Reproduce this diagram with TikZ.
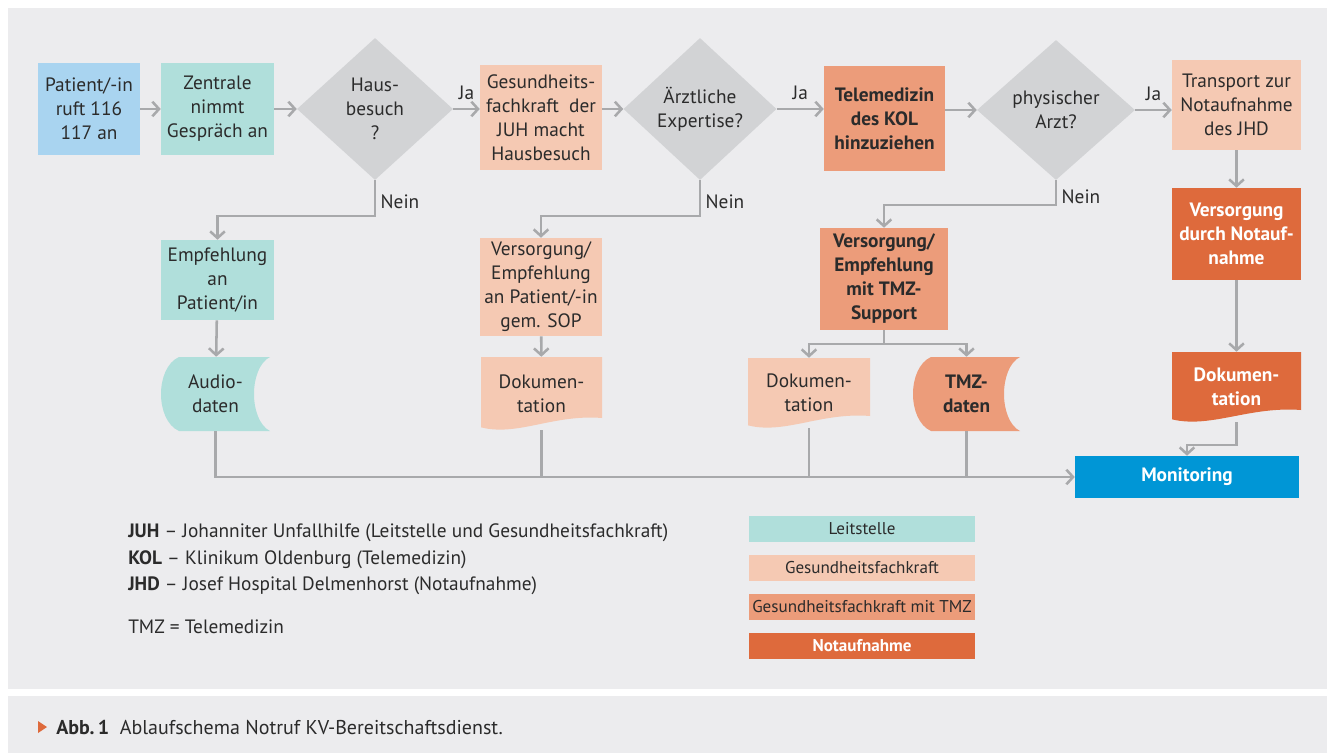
\documentclass[tikz,border=0pt]{standalone}
\usepackage{fontspec}
\setmainfont{PT Sans}
\usetikzlibrary{shapes.geometric,arrows.meta,calc}

\definecolor{bggray}{HTML}{ECECEE}
\definecolor{askgray}{HTML}{D2D3D5}
\definecolor{linegray}{HTML}{A8A9AB}
\definecolor{txtgray}{HTML}{2B2B2B}
\definecolor{callblue}{HTML}{A9D4F0}
\definecolor{leitteal}{HTML}{B0DFDB}
\definecolor{gfkpeach}{HTML}{F5C9B3}
\definecolor{tmzsalmon}{HTML}{EC9C7A}
\definecolor{notorange}{HTML}{DE6A3C}
\definecolor{monblue}{HTML}{0096D6}

\tikzset{
  box/.style 2 args={minimum width=#1*0.75pt, minimum height=#2*0.75pt, inner sep=0pt, align=center},
  ask/.style 2 args={diamond, fill=askgray, minimum width=#1*0.75pt, minimum height=#2*0.75pt, inner sep=0pt, align=center},
  strong/.style={font=\fontsize{14.5}{18}\selectfont\bfseries},
  yes/.style={above, yshift=3pt},
  flow/.style={draw=linegray, line width=1.9pt, -{Straight Barb[length=5pt,width=11pt]}},
  link/.style={draw=linegray, line width=1.9pt},
  docshape/.style={path picture={
    \coordinate (dNW) at (path picture bounding box.north west);
    \coordinate (dNE) at (path picture bounding box.north east);
    \coordinate (dSW) at (path picture bounding box.south west);
    \coordinate (dSE) at (path picture bounding box.south east);
    \fill[#1] (dNW) -- (dNE) -- ($(dSE)+(0,9pt)$)
      .. controls ($(dSW)!0.6!(dSE)+(0,12pt)$) and ($(dSW)!0.3!(dSE)+(0,-5pt)$) .. ($(dSW)+(0,2pt)$) -- cycle;
  }},
  store/.style={path picture={
    \coordinate (sNW) at (path picture bounding box.north west);
    \coordinate (sNE) at (path picture bounding box.north east);
    \coordinate (sSW) at (path picture bounding box.south west);
    \coordinate (sSE) at (path picture bounding box.south east);
    \fill[#1] ($(sNW)+(13.5pt,0)$) -- (sNE)
      .. controls ($(sNE)+(-16pt,-8pt)$) and ($(sSE)+(-16pt,8pt)$) .. (sSE)
      -- ($(sSW)+(13.5pt,0)$)
      .. controls ($(sSW)+(-4.5pt,8pt)$) and ($(sNW)+(-4.5pt,-8pt)$) .. ($(sNW)+(13.5pt,0)$) -- cycle;
  }},
  legendbox/.style={box={226}{26}, font=\fontsize{12.8}{14}\selectfont},
}

\begin{document}
\begin{tikzpicture}[x=0.75pt, y=-0.75pt, text=txtgray, font=\fontsize{14.5}{18}\selectfont]
  \useasboundingbox (0,0) rectangle (1327,753);
  \fill[white] (0,0) rectangle (1327,753);
  \fill[bggray] (8,8) rectangle (1327,689);
  \fill[bggray] (8,696) rectangle (1327,753);

  % top row
  \node[box={102}{92}, fill=callblue] (pat) at (89,109) {Patient/-in\\ruft 116\\117 an};
  \node[box={113}{92}, fill=leitteal] (zen) at (217.5,109) {Zentrale\\nimmt\\Gespräch an};
  \node[ask={156}{142}] (haus) at (375,109) {Haus-\\besuch\\?};
  \node[box={122}{105}, fill=gfkpeach] (gfk) at (541,117.5) {Gesundheits-\\fachkraft\ \ der\\JUH macht\\Hausbesuch};
  \node[ask={153}{142}] (aerzt) at (700,109) {Ärztliche\\Expertise?};
  \node[box={121}{105}, fill=tmzsalmon, strong] (tele) at (884.5,118.5) {Telemedizin\\des KOL\\hinzuziehen};
  \node[ask={158}{140}] (phys) at (1056,110) {physischer\\Arzt?};
  \node[box={129}{90}, fill=gfkpeach] (trans) at (1236.5,105) {Transport zur\\Notaufnahme\\des JHD};

  % right column
  \node[box={129}{92}, fill=notorange, strong, text=white] (vnot) at (1236.5,234) {Versorgung\\durch Notauf-\\nahme};
  \node[box={129}{70}, docshape=notorange, strong, text=white] (dok3) at (1236.5,387) {Dokumen-\\tation};
  \node[box={224}{42}, fill=monblue, strong, text=white] (mon) at (1187,477) {Monitoring};

  % second row
  \node[box={113}{80}, fill=leitteal] (empf) at (217.5,280) {Empfehlung\\an\\Patient/in};
  \node[box={109}{74}, store=leitteal] (audio) at (215.5,394) {Audio-\\daten};
  \node[box={122}{98}, fill=gfkpeach] (vers) at (541,287) {Versorgung/\\Empfehlung\\an Patient/-in\\gem. SOP};
  \node[box={121}{73}, docshape=gfkpeach] (dok1) at (541.5,393.5) {Dokumen-\\tation};
  \node[box={128}{102}, fill=tmzsalmon, strong] (vtmz) at (884,279) {Versorgung/\\Empfehlung\\mit TMZ-\\Support};
  \node[box={122}{70}, docshape=gfkpeach] (dok2) at (809,393) {Dokumen-\\tation};
  \node[box={107}{74}, store=tmzsalmon, strong] (tmzd) at (966.5,394) {TMZ-\\daten};

  \coordinate (n1) at (375,216);
  \coordinate (n2) at (700,216);
  \coordinate (n3) at (1056,205);
  \coordinate (sp) at (884,344);
  \coordinate (m3) at (1236.5,445);

  % connectors
  \draw[flow] (pat) -- (zen);
  \draw[flow] (zen) -- (haus);
  \draw[flow] (haus.east) -- node[yes]{Ja} (haus.east -| gfk.west);
  \draw[flow] (gfk.east |- aerzt.west) -- (aerzt.west);
  \draw[flow] (aerzt.east) -- node[yes]{Ja} (aerzt.east -| tele.west);
  \draw[flow] (tele.east |- phys.west) -- (phys.west);
  \draw[flow] (phys.east) -- node[yes]{Ja} (phys.east -| trans.west);
  \draw[flow] (trans) -- (vnot);
  \draw[flow] (vnot) -- (dok3);
  \draw[flow] (dok3.south) -- (m3) -| (mon.north);

  \draw[flow] (haus.south) -- node[right, yshift=-3pt]{Nein} (n1) -| (empf.north);
  \draw[flow] (empf) -- (audio);
  \draw[flow] (aerzt.south) -- node[right, yshift=-3pt]{Nein} (n2) -| (vers.north);
  \draw[flow] (vers) -- (dok1);
  \draw[flow] (phys.south) -- node[right, yshift=-3pt]{Nein} (n3) -| (vtmz.north);
  \draw[flow] (vtmz.south) -- (sp) -| (dok2.north);
  \draw[flow] (sp) -| (tmzd.north);

  \draw[flow] (audio.south) |- (mon.west);
  \draw[link] (dok1.south) -- (dok1.south |- mon.west);
  \draw[link] (dok2.south) -- (dok2.south |- mon.west);
  \draw[link] (tmzd.south) -- (tmzd.south |- mon.west);

  % abbreviations
  \node[anchor=west, inner sep=0pt] (juh) at (128,533) {\textbf{JUH} – Johanniter Unfallhilfe (Leitstelle und Gesundheitsfachkraft)};
  \node[anchor=west, inner sep=0pt] (kol) at (128,560) {\textbf{KOL} – Klinikum Oldenburg (Telemedizin)};
  \node[anchor=west, inner sep=0pt] (jhd) at (128,586) {\textbf{JHD} – Josef Hospital Delmenhorst (Notaufnahme)};
  \node[anchor=west, inner sep=0pt] (tmz) at (128,627) {TMZ = Telemedizin};

  % legend
  \node[legendbox, fill=leitteal] (lg1) at (862,529) {Leitstelle};
  \node[legendbox, fill=gfkpeach] (lg2) at (862,568) {Gesundheitsfachkraft};
  \node[legendbox, fill=tmzsalmon] (lg3) at (862,606.5) {Gesundheitsfachkraft mit TMZ};
  \node[legendbox, fill=notorange, text=white, font=\fontsize{12.8}{14}\selectfont\bfseries] (lg4) at (862,645.5) {Notaufnahme};

  % caption
  \fill[notorange] (38,721) -- (47,727) -- (38,733) -- cycle;
  \node[anchor=west, inner sep=0pt, font=\fontsize{15}{17}\selectfont] (cap) at (56,727) {\textbf{Abb.\,1}\ \ Ablaufschema Notruf KV-Bereitschaftsdienst.};
\end{tikzpicture}
\end{document}
